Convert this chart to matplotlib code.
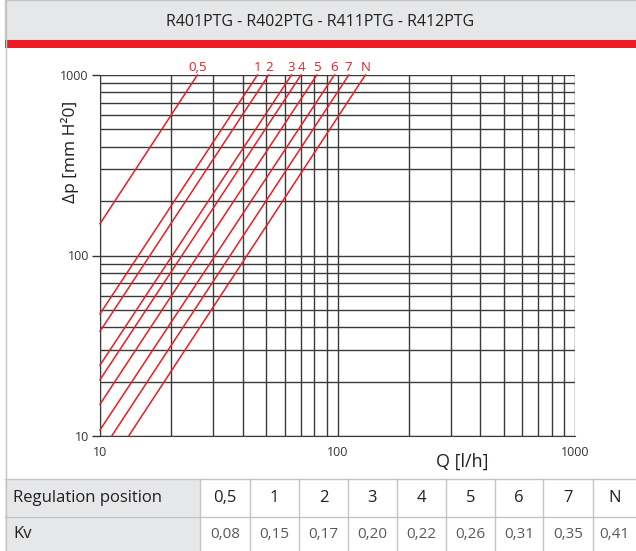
import matplotlib
matplotlib.use("Agg")
import matplotlib.pyplot as plt
from matplotlib.patches import Rectangle
from matplotlib.ticker import LogLocator, FixedLocator, FixedFormatter, NullFormatter

# --- DADOS ---

titulo = "R401PTG - R402PTG - R411PTG - R412PTG"

posicoes = ['0,5', '1', '2', '3', '4', '5', '6', '7', 'N']
kv = ['0,08', '0,15', '0,17', '0,20', '0,22', '0,26', '0,31', '0,35', '0,41']

# ponto inicial de cada reta (Q em l/h, dp em mm H2O)
q_inicio = [10, 10, 10, 10, 10, 10, 10, 11.2, 13.2]
dp_inicio = [150, 47.5, 38, 24.7, 20.5, 15.0, 10.8, 10, 10]
# ponto final (todas chegam em 1000 mm)
q_fim = [25.7, 46.0, 51.3, 64.0, 70.2, 81.8, 97.0, 111.5, 131.0]
dp_fim = [1000, 1000, 1000, 1000, 1000, 1000, 1000, 1000, 1000]

x_ticks = [10, 100, 1000]
y_ticks = [10, 100, 1000]

# --- CORES E FIGURA ---

W, H = 636, 551
vermelho = '#ed1c24'
cinza_fundo = '#e6e7e8'
cinza_linha = '#c4c4c4'
fonte = ['Open Sans', 'DejaVu Sans']

plt.rcParams['font.family'] = fonte

fig = plt.figure(figsize=(W / 100, H / 100), dpi=100)


def ret(x0, y0, x1, y1, **kw):
    # retangulo em pixels (origem no topo esquerdo)
    r = Rectangle((x0 / W, 1 - y1 / H), (x1 - x0) / W, (y1 - y0) / H,
                  transform=fig.transFigure, **kw)
    fig.add_artist(r)


def texto(x, y, s, **kw):
    fig.text(x / W, 1 - y / H, s, **kw)


# faixa do titulo
ret(5, 0, 640, 40, facecolor=cinza_fundo, edgecolor=cinza_linha, lw=1)
ret(5, 40, 640, 47.5, facecolor=vermelho, edgecolor='none')
texto(320, 22, titulo, ha='center', va='center', fontsize=11.5, color='#231f20')

# borda esquerda
fig.add_artist(plt.Line2D([5.5 / W, 5.5 / W], [0, 1], transform=fig.transFigure,
                          color=cinza_linha, lw=1))

# --- GRAFICO ---

ax = fig.add_axes([100 / W, 1 - 436 / H, 475 / W, 361 / H])
ax.set_xscale('log')
ax.set_yscale('log')
ax.set_xlim(10, 1000)
ax.set_ylim(10, 1000)

ax.xaxis.set_major_locator(FixedLocator(x_ticks))
ax.xaxis.set_major_formatter(FixedFormatter([str(v) for v in x_ticks]))
ax.yaxis.set_major_locator(FixedLocator(y_ticks))
ax.yaxis.set_major_formatter(FixedFormatter([str(v) for v in y_ticks]))
ax.xaxis.set_minor_locator(LogLocator(base=10, subs=range(2, 10)))
ax.yaxis.set_minor_locator(LogLocator(base=10, subs=range(2, 10)))
ax.xaxis.set_minor_formatter(NullFormatter())
ax.yaxis.set_minor_formatter(NullFormatter())

ax.grid(True, which='both', color='#3a3a3a', lw=1)
ax.set_axisbelow(True)
ax.tick_params(axis='x', which='major', length=0, pad=7, labelsize=9, colors='#333333')
ax.tick_params(axis='y', which='major', length=6, width=1, pad=2, labelsize=9,
               colors='#333333')
ax.tick_params(which='minor', length=0)
for lado in ['top', 'right']:
    ax.spines[lado].set_visible(False)
for lado in ['left', 'bottom']:
    ax.spines[lado].set_color('#3a3a3a')

for i in range(len(posicoes)):
    ax.plot([q_inicio[i], q_fim[i]], [dp_inicio[i], dp_fim[i]], color=vermelho, lw=1.1,
            clip_on=False, zorder=3)
    ax.text(q_fim[i], 1.022, posicoes[i], transform=ax.get_xaxis_transform(),
            ha='center', va='center', fontsize=9.5, color=vermelho)

# rotulos dos eixos
texto(70, 152, '\u0394p [mm H\u00b20]', ha='center', va='center', rotation=90,
      fontsize=12.5, color='#231f20')
texto(462, 462, 'Q [l/h]', ha='center', va='center', fontsize=13, color='#231f20')

# --- TABELA ---

y_top, y_meio, y_fim = 479, 517, 552
ret(5, y_top, 200, y_fim, facecolor=cinza_fundo, edgecolor='none')
fig.add_artist(plt.Line2D([5 / W, 1], [1 - y_top / H] * 2, transform=fig.transFigure,
                          color=cinza_linha, lw=1))
fig.add_artist(plt.Line2D([5 / W, 1], [1 - y_meio / H] * 2, transform=fig.transFigure,
                          color=cinza_linha, lw=1))

colunas = [200, 250, 299, 348, 397, 446, 495, 543, 593, 640]
for xc in colunas[:-1]:
    fig.add_artist(plt.Line2D([xc / W] * 2, [1 - y_fim / H, 1 - y_top / H],
                              transform=fig.transFigure, color=cinza_linha, lw=1))

texto(13, (y_top + y_meio) / 2, 'Regulation position', ha='left', va='center',
      fontsize=12, color='#231f20')
texto(13, (y_meio + y_fim) / 2, 'Kv', ha='left', va='center', fontsize=12,
      color='#231f20')

for i in range(len(posicoes)):
    xm = (colunas[i] + colunas[i + 1]) / 2
    if i == len(posicoes) - 1:
        xm = (colunas[i] + 636) / 2
    texto(xm, (y_top + y_meio) / 2, posicoes[i], ha='center', va='center',
          fontsize=12, color='#231f20', fontweight='medium')
    texto(xm, (y_meio + y_fim) / 2, kv[i], ha='center', va='center',
          fontsize=11, color='#58595b')

fig.savefig('out.png', dpi=100)
